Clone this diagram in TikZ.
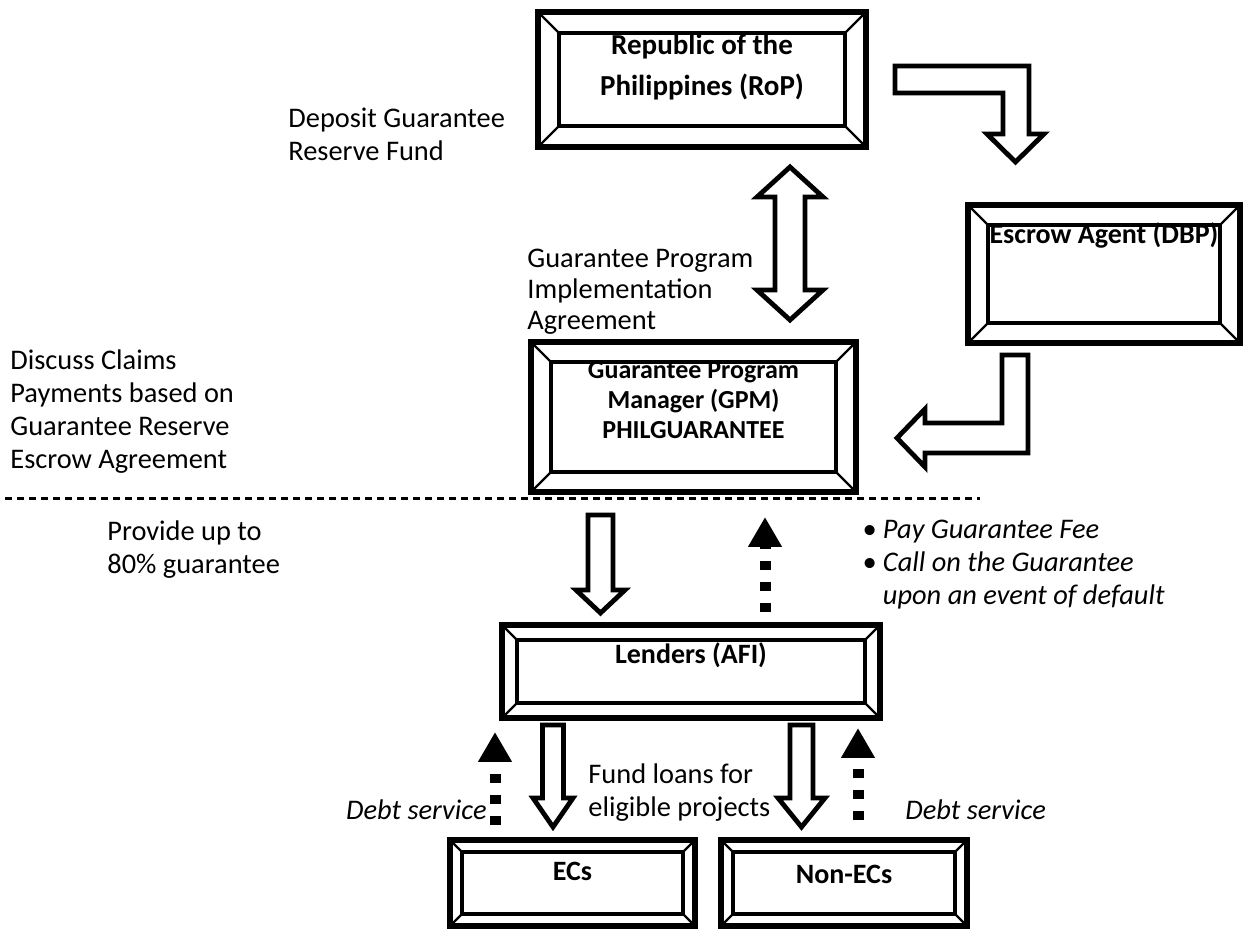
\documentclass[tikz,border=0pt]{standalone}
\usepackage{fontspec}
\setmainfont{Carlito}
\usetikzlibrary{arrows.meta,positioning,calc}

\tikzset{
  bevelbox/.style={draw, line width=2.6pt, inner sep=0pt, outer sep=0pt, fill=white,
    path picture={
      \draw[line width=2.3pt] ([xshift=#1,yshift=-#1]path picture bounding box.north west)
        rectangle ([xshift=-#1,yshift=#1]path picture bounding box.south east);
      \draw[line width=1.2pt] (path picture bounding box.north west) -- ++(#1,-#1)
        (path picture bounding box.north east) -- ++(-#1,-#1)
        (path picture bounding box.south west) -- ++(#1,#1)
        (path picture bounding box.south east) -- ++(-#1,#1);
    }},
  lbl/.style={font=\fontsize{14.2}{16.5}\selectfont, align=left, inner sep=0pt},
  itlbl/.style={lbl, font=\fontsize{14.2}{16.5}\selectfont\itshape},
  boxlbl/.style={font=\fontsize{14}{15}\selectfont\bfseries, align=center, inner sep=0pt},
  blockline/.style={draw, line width=2.4pt, fill=white, line join=miter},
  dotup/.style={line width=5.5pt, dash pattern=on 4.5pt off 6pt, -{Triangle[width=16pt,length=15pt]}},
  sepline/.style={line width=1.5pt, dash pattern=on 3.5pt off 2.5pt},
  pics/downblock/.style n args={4}{code={
    \draw[blockline] (-#2,0) -- (#2,0) -- (#2,#1-#4) -- (#3,#1-#4) -- (0,#1)
      -- (-#3,#1-#4) -- (-#2,#1-#4) -- cycle;
  }}
}

\begin{document}
\begin{tikzpicture}[x=0.5pt, y=-0.5pt]
  \useasboundingbox[fill=white] (0,0) rectangle (1244,929);
  % boxes
  \node[bevelbox=10.5pt, minimum width=164pt, minimum height=67.5pt] (rop) at (702,79.5) {};
  \node[bevelbox=10pt, minimum width=136pt, minimum height=69pt] (esc) at (1104,274) {};
  \node[bevelbox=10pt, minimum width=162.5pt, minimum height=75pt] (gpm) at (693.5,417) {};
  \node[bevelbox=7.5pt, minimum width=189pt, minimum height=46.5pt] (afi) at (691,671.5) {};
  \node[bevelbox=6pt, minimum width=122.5pt, minimum height=43pt] (ecs) at (572.5,883) {};
  \node[bevelbox=6pt, minimum width=123pt, minimum height=43pt, right=13pt of ecs] (nonecs) {};
  \node[boxlbl, font=\fontsize{14.5}{20.5}\selectfont\bfseries] (roptext) at ($(rop.north)+(0,55.5)$) {Republic of the\\Philippines (RoP)};
  \node[boxlbl] (esctext) at ($(esc.north)+(0,30)$) {Escrow Agent (DBP)};
  \node[boxlbl, font=\fontsize{13}{15}\selectfont\bfseries] (gpmtext) at ($(gpm.north)+(0,58)$) {Guarantee Program\\Manager (GPM)\\PHILGUARANTEE};
  \node[boxlbl] (afitext) at ($(afi.north)+(0,30)$) {Lenders (AFI)};
  \node[boxlbl] (ecstext) at ($(ecs.north)+(0,31)$) {ECs};
  \node[boxlbl] (nonecstext) at ($(nonecs.north)+(0,34)$) {Non-ECs};
  % labels
  \node[lbl, anchor=west] (deposit) at (288,134) {Deposit Guarantee\\Reserve Fund};
  \node[lbl, anchor=west, font=\fontsize{14.2}{15.5}\selectfont] (gpia) at (527,292) {Guarantee Program\\Implementation\\Agreement};
  \node[lbl, anchor=west] (claims) at (10,412) {Discuss Claims\\Payments based on\\Guarantee Reserve\\Escrow Agreement};
  \node[lbl, anchor=west] (provide) at (107,550) {Provide up to\\80\% guarantee};
  \node[itlbl, anchor=west] (fee) at (862,565) {\textbullet\ Pay Guarantee Fee\\\textbullet\ Call on the Guarantee\\\phantom{\textbullet\ }upon an event of default};
  \node[lbl, anchor=west] (fund) at (588,793) {Fund loans for\\eligible projects};
  \node[itlbl, anchor=east] (debtl) at (487,810) {Debt service};
  \node[itlbl, anchor=west] (debtr) at (905,810) {Debt service};
  % block arrows
  \draw[blockline] ($(rop.east)+(29,-13.5)$) -- ++(134,0) -- ++(0,68) -- ++(15,0) -- ++(-28.5,28)
    -- ++(-28.5,-28) -- ++(16,0) -- ++(0,-41) -- ++(-108,0) -- cycle;
  \draw[blockline] ($(esc.south)+(-102,12)$) -- ++(26,0) -- ++(0,98) -- ++(-103,0) -- ++(0,14)
    -- ++(-28,-29) -- ++(28,-29) -- ++(0,14) -- ++(77,0) -- cycle;
  \draw[blockline] ($(rop.south)+(88,20)$) -- ++(33,30) -- ++(-18,0) -- ++(0,93) -- ++(18,0)
    -- ++(-33,30) -- ++(-33,-30) -- ++(18,0) -- ++(0,-93) -- ++(-18,0) -- cycle;
  \draw[sepline] (5,499) -- (980,499);
  \pic at ($(gpm.south)+(-93,23)$) {downblock={98}{12.5}{24.5}{23}};
  \pic at ($(afi.south)+(-138,7)$) {downblock={102}{10.5}{20}{29}};
  \pic at ($(afi.south)+(110.5,7)$) {downblock={102}{11.5}{23.5}{29}};
  % dotted returns
  \draw[dotup] ($(afi.north)+(74,-13)$) -- ++(0,-95);
  \draw[dotup] ($(ecs.north)+(-77.5,-15)$) -- ++(0,-93);
  \draw[dotup] ($(nonecs.north)+(14,-20)$) -- ++(0,-92);
\end{tikzpicture}
\end{document}
